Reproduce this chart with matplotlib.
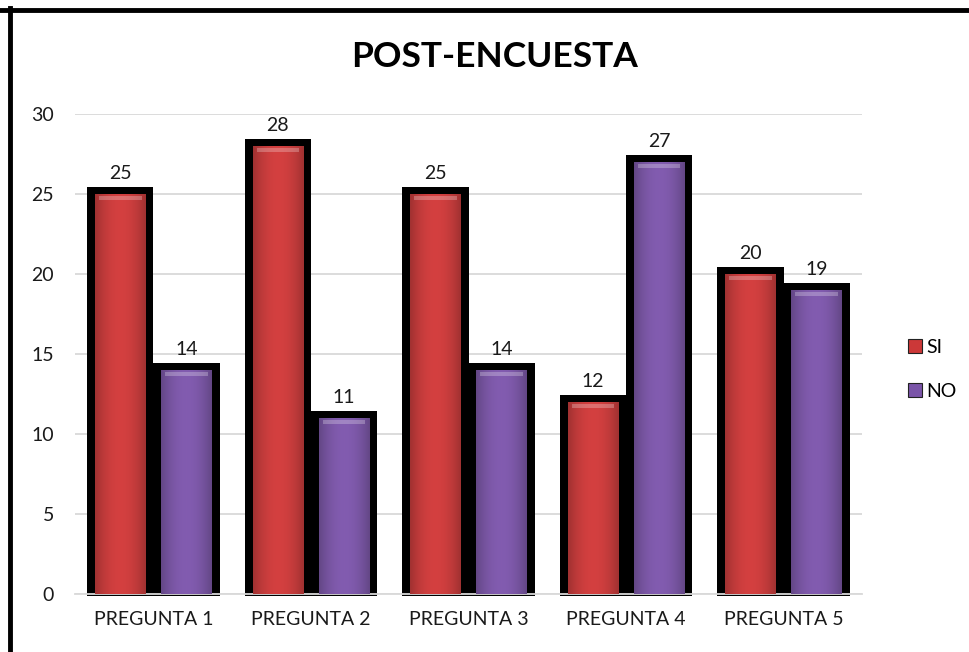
import numpy as np
import matplotlib
matplotlib.use('Agg')
import matplotlib.pyplot as plt
from matplotlib.patches import Rectangle
from matplotlib.lines import Line2D

plt.rcParams['font.family'] = ['Lato', 'DejaVu Sans']

categorias = ['PREGUNTA 1', 'PREGUNTA 2', 'PREGUNTA 3', 'PREGUNTA 4', 'PREGUNTA 5']
si = [25, 28, 25, 12, 20]
no = [14, 11, 14, 27, 19]
series = [('SI', si, (0.80, 0.22, 0.22)), ('NO', no, (0.48, 0.33, 0.66))]

fig = plt.figure(figsize=(9.7, 6.52), dpi=100, facecolor='white')
ax = fig.add_axes([0.077, 0.089, 0.812, 0.736])
ax.set_xlim(-0.5, 4.5)
ax.set_ylim(0, 30)

x = np.arange(len(categorias))
off = 0.21
wout = 0.42
win = 0.32


def gradiente(color):
    # sombreado horizontal: bordes oscuros, centro claro
    t = np.linspace(-1, 1, 64)
    f = 1.0 - 0.25 * t ** 2
    img = np.clip(np.array(color)[None, :] * f[:, None] + 0.03, 0, 1)
    return img[None, :, :]


for i, (nombre, vals, color) in enumerate(series):
    pos = x + (i * 2 - 1) * off
    ax.bar(pos, np.array(vals) + 0.58, width=wout, bottom=-0.15, color='black',
           zorder=2, clip_on=False)
    barras = ax.bar(pos, vals, width=win, color=color, zorder=3)
    for b in barras:
        x0, w, h = b.get_x(), b.get_width(), b.get_height()
        im = ax.imshow(gradiente(color), extent=(x0, x0 + w, 0, h), aspect='auto',
                       zorder=3.5, interpolation='bicubic')
        im.set_clip_path(b)
        # brillo superior
        ax.add_patch(Rectangle((x0 + w * 0.08, h - 0.35), w * 0.84, 0.25,
                               color='white', alpha=0.25, lw=0, zorder=4))
    for p, v in zip(pos, vals):
        ax.text(p, v + 0.75, str(v), ha='center', va='bottom', fontsize=14,
                color='#1a1a1a', zorder=5)

ax.set_yticks(range(0, 31, 5))
ax.yaxis.grid(True, color='#d9d9d9', lw=1.3, zorder=0)
ax.set_axisbelow(True)
ax.set_xticks(x)
ax.set_xticklabels(categorias)
ax.tick_params(axis='both', length=0, labelsize=14, colors='#1a1a1a')
ax.tick_params(axis='y', pad=15)
ax.tick_params(axis='x', pad=12)
for s in ['top', 'right', 'left']:
    ax.spines[s].set_visible(False)
ax.spines['bottom'].set_color('#d9d9d9')
ax.spines['bottom'].set_linewidth(1.3)

fig.text(0.51, 0.912, 'POST-ENCUESTA', ha='center', va='center', fontsize=25.5,
         fontweight='bold', color='black')

handles = [Line2D([], [], marker='s', linestyle='none', markersize=10,
                  markerfacecolor=c, markeredgecolor='#222222', markeredgewidth=0.8)
           for _, _, c in series]
fig.legend(handles, [s[0] for s in series], loc='center left',
           bbox_to_anchor=(0.915, 0.433), frameon=False, fontsize=14,
           handletextpad=0.1, labelspacing=1.4, handlelength=1.0)

# borde del gráfico
fig.add_artist(Line2D([0.0, 1.0], [0.985, 0.985], color='black', lw=3.5,
                      transform=fig.transFigure))
fig.add_artist(Line2D([0.0105, 0.0105], [0.0, 0.987], color='black', lw=3.5,
                      transform=fig.transFigure))

fig.savefig('out.png', dpi=100, facecolor='white')
